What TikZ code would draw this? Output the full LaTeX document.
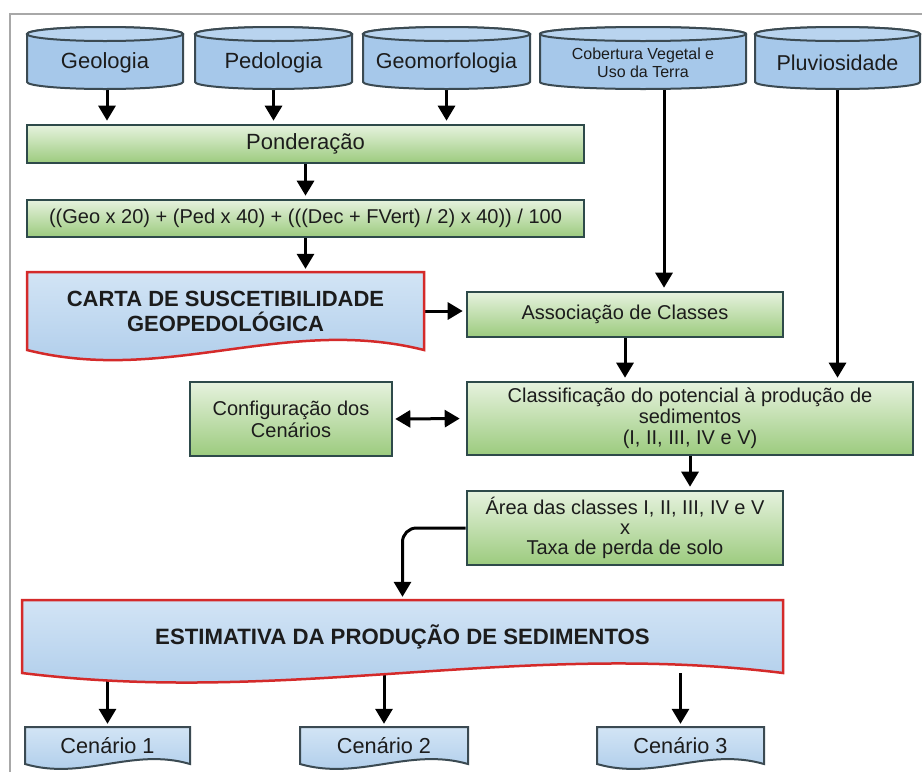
\documentclass[tikz,border=0pt]{standalone}
\usepackage{fontspec}
\setmainfont{Liberation Sans}
\usetikzlibrary{arrows.meta,calc}
\pgfdeclarelayer{bg}
\pgfsetlayers{bg,main}
\definecolor{cylfill}{HTML}{A6C8EA}
\definecolor{cyltopc}{HTML}{B9D4EF}
\definecolor{cyledge}{HTML}{3B4A52}
\definecolor{gtop}{HTML}{E6F2DE}
\definecolor{gbot}{HTML}{9CCB7E}
\definecolor{gedge}{HTML}{2E4A4A}
\definecolor{btop}{HTML}{D2E4F5}
\definecolor{bbot}{HTML}{A9C9E9}
\definecolor{redc}{HTML}{D42A2A}
\definecolor{txt}{HTML}{1C1C1C}
\definecolor{framec}{HTML}{A8A8A8}
\newcommand\cyl[5]{%
  \pgfmathsetmacro\cxa{#2}%
  \pgfmathsetmacro\cxb{#3}%
  \pgfmathsetmacro\crad{(#3-#2)/2}%
  \pgfmathsetmacro\cmid{(#2+#3)/2}%
  \path[cylbody] (\cxa,34) -- (\cxa,82) arc[start angle=180,end angle=360,x radius=\crad pt,y radius=7pt] -- (\cxb,34) arc[start angle=0,end angle=180,x radius=\crad pt,y radius=7pt] -- cycle;
  \path[cyltop] (\cmid,34) ellipse[x radius=\crad pt,y radius=7pt];
  \node[cyltext,font=#4,minimum width=2*\crad pt,minimum height=52pt] (#1) at (\cmid,63) {#5};%
}
\newcommand\docnode[9]{%
  \path[#2] (#3,#4) -- (#5,#4) -- (#5,#6) .. controls ({#5-0.35*(#5-#3)},{#6-#7}) and ({#3+0.35*(#5-#3)},{#6+#7}) .. (#3,#6) -- cycle;
  \node[doctext,font=#8,minimum width={(#5-#3)*1pt},minimum height={(#6-#4)*1pt}] (#1) at ({(#3+#5)/2},{(#4+#6)/2}) {#9};%
}
\begin{document}
\begin{tikzpicture}[x=1pt,y=-1pt,
  cylbody/.style={draw=cyledge,line width=2pt,fill=cylfill},
  cyltop/.style={draw=cyledge,line width=2pt,fill=cyltopc},
  cyltext/.style={inner sep=0pt,align=center,text=txt},
  greenbox/.style={draw=gedge,line width=2.6pt,top color=gtop,bottom color=gbot,align=center,inner sep=0pt,text=txt,font=\fontsize{20}{21}\selectfont},
  redoc/.style={draw=redc,line width=2.5pt,top color=btop,bottom color=bbot},
  graydoc/.style={draw=cyledge,line width=2pt,top color=btop,bottom color=bbot},
  doctext/.style={inner sep=0pt,align=center,text=txt},
  arr/.style={line width=3pt,-{Triangle[width=17pt,length=15pt]},shorten >=3pt},
  darr/.style={line width=3pt,{Triangle[width=17pt,length=15pt]}-{Triangle[width=17pt,length=15pt]},shorten >=6pt,shorten <=2pt},
]
\useasboundingbox (0,0) rectangle (922,772);
\begin{pgfonlayer}{bg}
\fill[white] (0,0) rectangle (922,772);
\end{pgfonlayer}
\draw[framec,line width=2.5pt] (10,772) -- (10,14) -- (922,14);

% cylinders
\cyl{geo}{27}{183}{\fontsize{22}{22}\selectfont}{Geologia}
\cyl{ped}{195}{352}{\fontsize{22}{22}\selectfont}{Pedologia}
\cyl{geom}{363}{530}{\fontsize{21.5}{22}\selectfont}{Geomorfologia}
\cyl{cob}{540}{746}{\fontsize{16}{18}\selectfont}{Cobertura Vegetal e\\Uso da Terra}
\cyl{pluv}{755}{920}{\fontsize{21.5}{22}\selectfont}{Pluviosidade}

% green boxes
\node[greenbox,minimum width=557pt,minimum height=38pt,font=\fontsize{22}{22}\selectfont] (pond) at (305.5,144) {Pondera\c{c}\~ao};
\node[greenbox,minimum width=557pt,minimum height=37pt] (form) at (305.5,218.5) {((Geo x 20) + (Ped x 40) + (((Dec + FVert) / 2) x 40)) / 100};
\node[greenbox,minimum width=316pt,minimum height=45pt] (assoc) at (625,314.5) {Associa\c{c}\~ao de Classes};
\node[greenbox,minimum width=446pt,minimum height=73pt] (class) at (690,418.5) {Classifica\c{c}\~ao do potencial \`a produ\c{c}\~ao de\\sedimentos\\(I, II, III, IV e V)};
\node[greenbox,minimum width=202pt,minimum height=74pt,font=\fontsize{20}{22}\selectfont] (config) at (291,419) {Configura\c{c}\~ao dos\\Cen\'arios};
\node[greenbox,minimum width=316pt,minimum height=74pt,font=\fontsize{20}{20}\selectfont] (area) at (625,528) {\'Area das classes I, II, III, IV e V\\x\\Taxa de perda de solo};

% document shapes
\docnode{carta}{redoc}{27}{272}{424}{350}{35}{\fontsize{22}{25}\selectfont\bfseries}{CARTA DE SUSCETIBILIDADE\\GEOPEDOL\'OGICA}
\docnode{est}{redoc}{22}{600}{783}{673}{33}{\fontsize{22.2}{24}\selectfont\bfseries}{ESTIMATIVA DA PRODU\c{C}\~AO DE SEDIMENTOS}
\docnode{c1}{graydoc}{25}{727}{190}{764}{17}{\fontsize{21.7}{22}\selectfont}{Cen\'ario 1}
\docnode{c2}{graydoc}{300}{727}{468}{764}{17}{\fontsize{21.7}{22}\selectfont}{Cen\'ario 2}
\docnode{c3}{graydoc}{597}{727}{764}{764}{17}{\fontsize{21.7}{22}\selectfont}{Cen\'ario 3}

% connectors
\begin{pgfonlayer}{bg}
\draw[arr] ([xshift=2pt]geo.south) -- ([xshift=2pt]geo.south |- pond.north);
\draw[arr] (ped.south) -- (ped.south |- pond.north);
\draw[arr] (geom.south) -- (geom.south |- pond.north);
\draw[arr] (pond.south) -- (pond.south |- form.north);
\draw[arr] (form.south) -- (form.south |- carta.north);
\draw[arr] ([xshift=21pt]cob.south) -- ([xshift=21pt]cob.south |- assoc.north);
\draw[arr] (carta.east) -- (carta.east -| assoc.west);
\draw[arr] (assoc.south) -- (assoc.south |- class.north);
\draw[arr] (pluv.south) -- (pluv.south |- class.north);
\draw[darr] (config.east) -- (class.west);
\draw[arr] (class.south) -- (class.south |- area.north);
\draw[arr,rounded corners=14pt] (area.west) -| (est.north);
\draw[arr] (est.south -| c1.north) -- (c1.north);
\draw[arr] (est.south -| c2.north) -- (c2.north);
\draw[arr] (est.south -| c3.north) -- (c3.north);
\end{pgfonlayer}
\end{tikzpicture}
\end{document}
